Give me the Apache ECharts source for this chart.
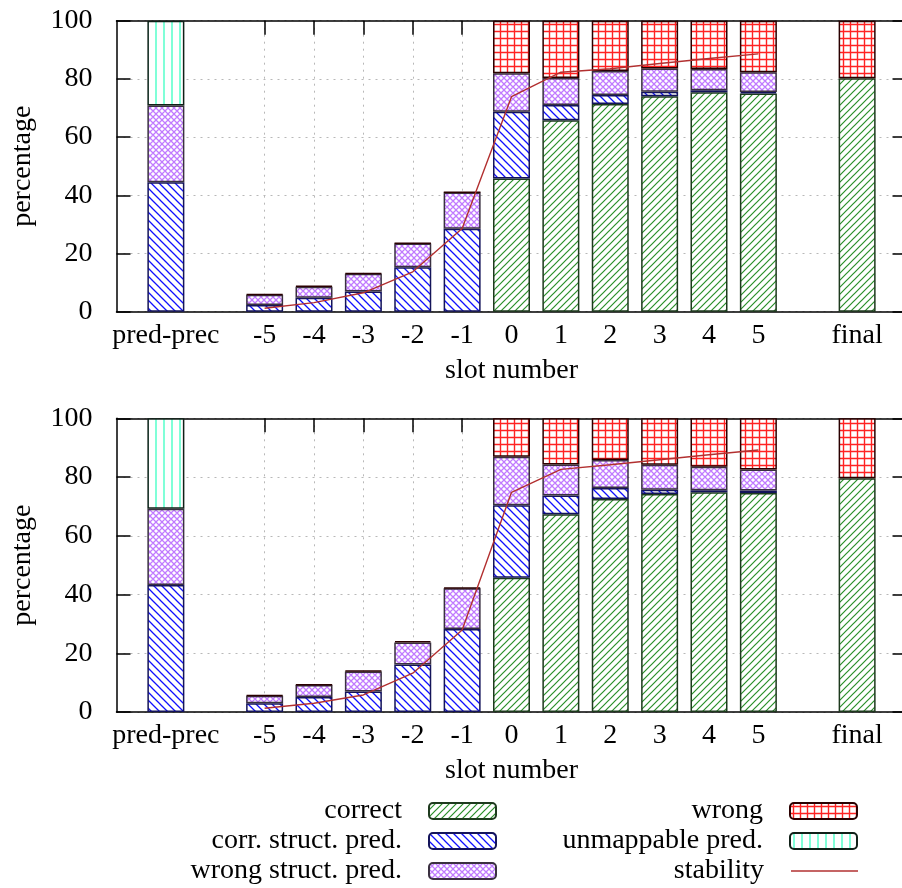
<!DOCTYPE html>
<html>
<head>
<meta charset="utf-8">
<script src="https://cdn.jsdelivr.net/npm/echarts@6/dist/echarts.min.js"></script>
<style>
html, body { margin: 0; padding: 0; background: #fff; }
#main { width: 902px; height: 888px; }
</style>
</head>
<body>
<div id="main"></div>
<script>
// x positions: blank slots keep the gaps around pred-prec and final
const slots = ['-5', '-4', '-3', '-2', '-1', '0', '1', '2', '3', '4', '5'];
const categories = ['', 'pred-prec', ''].concat(slots, ['', 'final', '']);
const yTicks = [0, 20, 40, 60, 80, 100];

// upper panel (segment heights, '-' = none)
const correctA      = ['-', '-', '-', '-', '-', '-', '-', '-', 45.8, 65.8, 71.4, 74.0, 75.4, 75.0, '-', 80.2, '-'];
const corrStructA   = ['-', 44.5, '-', 2.3, 4.8, 6.9, 15.3, 28.5, 22.9, 5.2, 3.1, 1.6, 0.7, 0.5, '-', '-', '-'];
const wrongStructA  = ['-', 26.4, '-', 3.5, 3.8, 6.1, 8.1, 12.5, 13.2, 9.3, 8.2, 8.0, 7.3, 6.8, '-', '-', '-'];
const wrongA        = ['-', '-', '-', 0.3, 0.3, 0.3, 0.2, 0.1, 18.1, 19.7, 17.3, 16.4, 16.6, 17.7, '-', 19.8, '-'];
const unmappableA   = ['-', 29.1, '-', '-', '-', '-', '-', '-', '-', '-', '-', '-', '-', '-', '-', '-', '-'];
const stabilityA    = ['-', '-', '-', 1.2, 3.1, 6.5, 13.7, 28.6, 73.9, 82.3, 83.5, 85.3, 87.0, 88.6, '-', '-', '-'];

// lower panel
const correctB      = ['-', '-', '-', '-', '-', '-', '-', '-', 45.7, 67.3, 72.5, 74.2, 74.8, 74.6, '-', 79.6, '-'];
const corrStructB   = ['-', 43.2, '-', 3.0, 5.1, 7.0, 16.2, 28.3, 24.7, 6.4, 3.8, 1.5, 0.7, 0.8, '-', '-', '-'];
const wrongStructB  = ['-', 26.0, '-', 2.5, 4.1, 6.8, 7.5, 13.8, 16.5, 10.6, 9.5, 8.5, 8.0, 7.2, '-', '-', '-'];
const wrongB        = ['-', '-', '-', 0.3, 0.2, 0.3, 0.5, 0.3, 13.1, 15.7, 14.2, 15.8, 16.5, 17.4, '-', 20.4, '-'];
const unmappableB   = ['-', 30.8, '-', '-', '-', '-', '-', '-', '-', '-', '-', '-', '-', '-', '-', '-', '-'];
const stabilityB    = ['-', '-', '-', 1.3, 3.0, 5.8, 13.2, 27.9, 74.8, 82.6, 84.2, 85.9, 87.6, 89.2, '-', '-', '-'];

const FONT = 'Liberation Serif';
const FS = 28;
const STAB = '#b23030';

function pattern(kind, color, s, lw) {
    const c = document.createElement('canvas');
    c.width = s; c.height = s;
    const g = c.getContext('2d');
    g.fillStyle = '#fff';
    g.fillRect(0, 0, s, s);
    g.strokeStyle = color;
    g.lineWidth = lw;
    g.beginPath();
    if (kind === 'fwd' || kind === 'cross') {
        g.moveTo(-1, s + 1); g.lineTo(s + 1, -1);
        g.moveTo(-2, 2); g.lineTo(2, -2);
        g.moveTo(s - 2, s + 2); g.lineTo(s + 2, s - 2);
    }
    if (kind === 'back' || kind === 'cross') {
        g.moveTo(-1, -1); g.lineTo(s + 1, s + 1);
        g.moveTo(s - 2, -2); g.lineTo(s + 2, 2);
        g.moveTo(-2, s - 2); g.lineTo(2, s + 2);
    }
    if (kind === 'vert' || kind === 'grid') {
        g.moveTo(s / 2, 0); g.lineTo(s / 2, s);
    }
    if (kind === 'grid') {
        g.moveTo(0, s / 2); g.lineTo(s, s / 2);
    }
    g.stroke();
    return { image: c, repeat: 'repeat' };
}

const styles = {
    'correct': { color: pattern('fwd', '#2a8f2a', 7, 1.2), borderColor: '#1e3a1e' },
    'corr. struct. pred.': { color: pattern('back', '#1010ff', 8, 1.3), borderColor: '#14145a' },
    'wrong struct. pred.': { color: pattern('cross', '#c07aff', 6, 1.3), borderColor: '#3a3040' },
    'wrong': { color: pattern('grid', '#ff2222', 7, 1.4), borderColor: '#2a0000' },
    'unmappable pred.': { color: pattern('vert', '#80ffd8', 8, 2), borderColor: '#102018' }
};

function panelSeries(p, correct, corrStruct, wrongStruct, wrong, unmappable, stability) {
    const parts = [
        ['correct', correct],
        ['corr. struct. pred.', corrStruct],
        ['wrong struct. pred.', wrongStruct],
        ['wrong', wrong],
        ['unmappable pred.', unmappable]
    ];
    const out = parts.map(function (pt) {
        return {
            name: pt[0],
            type: 'bar',
            stack: 'p' + p,
            xAxisIndex: p * 2,
            yAxisIndex: p * 2,
            barWidth: 37,
            itemStyle: {
                color: styles[pt[0]].color,
                borderColor: styles[pt[0]].borderColor,
                borderWidth: 1.5
            },
            data: pt[1],
            z: 10
        };
    });
    out.push({
        name: 'stability',
        type: 'line',
        xAxisIndex: p * 2,
        yAxisIndex: p * 2,
        symbol: 'none',
        lineStyle: { color: STAB, width: 1.4 },
        itemStyle: { color: STAB },
        data: stability,
        z: 12
    });
    return out;
}

function isSlot(i, v) { return slots.indexOf(v) >= 0; }
// top ticks only show where no bar reaches the top border
function isLowSlot(i, v) { return slots.indexOf(v) >= 0 && Number(v) < 0; }

function xAxes(g) {
    return [{
        type: 'category', gridIndex: g, data: categories, boundaryGap: false, z: 0,
        name: 'slot number', nameLocation: 'middle', nameGap: 45,
        nameTextStyle: { fontFamily: FONT, fontSize: FS, color: '#000' },
        axisLine: { onZero: false, lineStyle: { color: '#000', width: 1.5 } },
        axisTick: { show: false },
        axisLabel: { interval: 0, margin: 10, fontFamily: FONT, fontSize: FS, color: '#000' },
        splitLine: { show: true, interval: isSlot, lineStyle: { color: '#b8b8b8', type: [2, 5], width: 1 } }
    }, {
        type: 'category', gridIndex: g, data: categories, boundaryGap: false, position: 'top', z: 0,
        axisLine: { onZero: false, lineStyle: { color: '#000', width: 1.5 } },
        axisTick: { inside: true, length: 14, interval: isLowSlot, lineStyle: { color: '#000', width: 1.5 } },
        axisLabel: { show: false },
        splitLine: { show: false }
    }];
}

function yAxes(g) {
    return [{
        type: 'value', gridIndex: g, min: 0, max: 100, interval: 20, z: 0,
        name: 'percentage', nameLocation: 'middle', nameGap: 80, nameRotate: 90,
        nameTextStyle: { fontFamily: FONT, fontSize: FS, color: '#000' },
        axisLine: { show: true, lineStyle: { color: '#000', width: 1.5 } },
        axisTick: { show: true, inside: true, length: 14, lineStyle: { color: '#000', width: 1.5 } },
        axisLabel: { margin: 24, fontFamily: FONT, fontSize: FS, color: '#000',
            formatter: function (v) { return yTicks.indexOf(v) >= 0 ? String(v) : ''; } },
        splitLine: { show: true, lineStyle: { color: '#b8b8b8', type: [2, 5], width: 1 } }
    }, {
        type: 'value', gridIndex: g, min: 0, max: 100, interval: 20, position: 'right', z: 0,
        axisLine: { show: true, lineStyle: { color: '#000', width: 1.5 } },
        axisTick: { show: true, inside: true, length: 14, lineStyle: { color: '#000', width: 1.5 } },
        axisLabel: { show: false },
        splitLine: { show: false }
    }];
}

function legendItem(name, right, top) {
    const leg = {
        data: [name],
        orient: 'vertical',
        align: 'right',
        right: right,
        top: top,
        padding: 0,
        itemWidth: 67,
        itemHeight: 16,
        selectedMode: false,
        textStyle: { fontFamily: FONT, fontSize: FS, color: '#000', lineHeight: 28, padding: [0, 22, 0, 0] }
    };
    if (name === 'stability') {
        leg.data = [{ name: name, icon: 'rect' }];
        leg.itemHeight = 1.5;
    }
    return leg;
}

const chart = echarts.init(document.getElementById('main'), null, { renderer: 'canvas' });

const option = {
    animation: false,
    backgroundColor: '#fff',
    grid: [
        { left: 116.5, top: 20.7, width: 790, height: 291, outerBoundsMode: 'none' },
        { left: 116.5, top: 418.3, width: 790, height: 293.7, outerBoundsMode: 'none' }
    ],
    xAxis: xAxes(0).concat(xAxes(1)),
    yAxis: yAxes(0).concat(yAxes(1)),
    legend: [
        legendItem('correct', 405, 797),
        legendItem('corr. struct. pred.', 405, 827),
        legendItem('wrong struct. pred.', 405, 857),
        legendItem('wrong', 44, 797),
        legendItem('unmappable pred.', 44, 827),
        legendItem('stability', 44, 857)
    ],
    series: panelSeries(0, correctA, corrStructA, wrongStructA, wrongA, unmappableA, stabilityA)
        .concat(panelSeries(1, correctB, corrStructB, wrongStructB, wrongB, unmappableB, stabilityB))
};

chart.setOption(option);
</script>
</body>
</html>
